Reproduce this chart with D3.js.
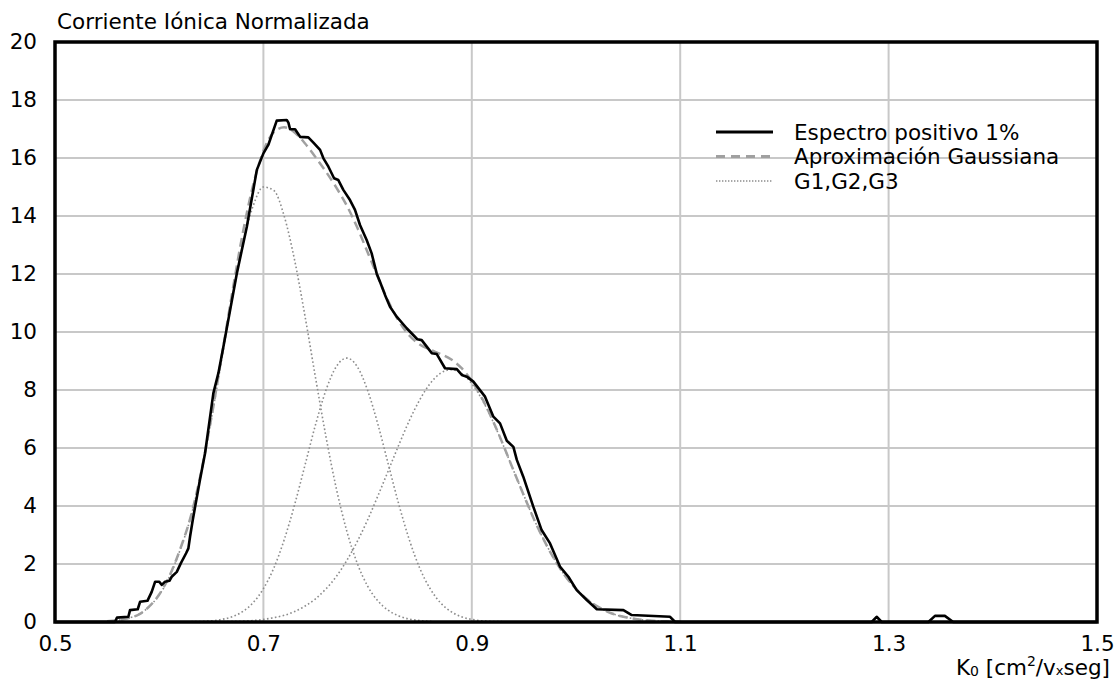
<!DOCTYPE html>
<html lang="es">
<head>
  <meta charset="UTF-8">
  <title>Espectro positivo 1%</title>
  <script src="https://cdn.jsdelivr.net/npm/d3@7"></script>
  <style>
    html, body {
      margin: 0;
      padding: 0;
      background: #fff;
    }
    svg text {
      font-family: "DejaVu Sans", Verdana, sans-serif;
      font-size: 21.5px;
      fill: #000;
    }
    .grid line {
      stroke: #c8c8c8;
      stroke-width: 2px;
    }
  </style>
</head>
<body>
  <div id="chart"></div>
  <script>
    // measured spectrum (K0, normalized ion current)
    const kSpec = [0.500, 0.5576, 0.5595, 0.5704, 0.5720, 0.5794, 0.5817, 0.5887, 0.5928, 0.5961,
      0.5999, 0.6025, 0.6056, 0.6098, 0.6120, 0.6169, 0.6207, 0.6258, 0.6280, 0.6296,
      0.6322, 0.6391, 0.6440, 0.6520, 0.6568, 0.6616, 0.6745, 0.6841, 0.6937, 0.7000,
      0.7047, 0.7128, 0.7224, 0.7240, 0.7256, 0.7304, 0.7352, 0.7431, 0.7480, 0.7544,
      0.7576, 0.7624, 0.7678, 0.7719, 0.7767, 0.7831, 0.7879, 0.7927, 0.7991, 0.8039,
      0.8087, 0.8119, 0.8167, 0.8215, 0.8279, 0.8375, 0.8477, 0.8519, 0.8616, 0.8664,
      0.8743, 0.8856, 0.8904, 0.8952, 0.9015, 0.9127, 0.9207, 0.9271, 0.9336, 0.9399,
      0.9432, 0.9494, 0.9590, 0.9670, 0.9751, 0.9846, 0.9927, 1.0007, 1.0103, 1.0200,
      1.0455, 1.0535, 1.0903, 1.0951, 1.2838, 1.2885, 1.2934, 1.3382, 1.3445, 1.3540,
      1.3620, 1.500]
    const iSpec = [0, 0, 0.15, 0.18, 0.41, 0.44, 0.70, 0.73, 1.04, 1.39,
      1.39, 1.28, 1.39, 1.42, 1.56, 1.73, 2.02, 2.37, 2.54, 2.94,
      3.52, 4.90, 5.82, 7.89, 8.58, 9.49, 12.02, 13.63, 15.59, 16.16,
      16.45, 17.29, 17.31, 17.22, 16.99, 16.99, 16.73, 16.71, 16.53, 16.28,
      15.99, 15.70, 15.30, 15.24, 14.90, 14.55, 14.21, 13.69, 13.17, 12.71,
      12.02, 11.73, 11.28, 10.87, 10.53, 10.13, 9.75, 9.72, 9.27, 9.24,
      8.75, 8.72, 8.52, 8.46, 8.29, 7.77, 7.08, 6.85, 6.25, 6.04,
      5.59, 5.01, 3.98, 3.17, 2.71, 1.91, 1.56, 1.10, 0.76, 0.44,
      0.41, 0.24, 0.18, 0, 0, 0.18, 0, 0, 0.21, 0.21,
      0, 0]

    // gaussian fit, sampled every 0.01
    const kFit = [0.55, 0.56, 0.57, 0.58, 0.59, 0.60, 0.61, 0.62, 0.63, 0.64,
      0.65, 0.66, 0.67, 0.68, 0.69, 0.70, 0.71, 0.72, 0.73, 0.74,
      0.75, 0.76, 0.77, 0.78, 0.79, 0.80, 0.81, 0.82, 0.83, 0.84,
      0.85, 0.86, 0.87, 0.88, 0.89, 0.90, 0.91, 0.92, 0.93, 0.94,
      0.95, 0.96, 0.97, 0.98, 0.99, 1.00, 1.01, 1.02, 1.03, 1.04,
      1.05, 1.06, 1.07, 1.08, 1.09, 1.10]
    const fitSum = [0.03, 0.06, 0.13, 0.25, 0.52, 0.95, 1.60, 2.50, 3.60, 5.13,
      7.03, 9.16, 11.34, 13.37, 15.04, 16.24, 16.89, 17.06, 16.88, 16.50,
      16.03, 15.53, 14.98, 14.36, 13.61, 12.75, 11.88, 11.05, 10.37, 9.88,
      9.57, 9.39, 9.24, 9.06, 8.76, 8.31, 7.70, 6.96, 6.12, 5.23,
      4.36, 3.52, 2.77, 2.12, 1.57, 1.14, 0.80, 0.55, 0.36, 0.23,
      0.15, 0.09, 0.05, 0.03, 0.02, 0.01]
    const g1 = [0.03, 0.06, 0.13, 0.25, 0.52, 0.93, 1.57, 2.48, 3.58, 5.11,
      6.99, 9.06, 11.14, 12.98, 14.33, 15.00, 14.88, 13.99, 12.47, 10.53,
      8.43, 6.40, 4.60, 3.14, 2.03, 1.24, 0.72, 0.40, 0.21, 0.10,
      0.05, 0.02, 0, 0, 0, 0, 0, 0, 0, 0,
      0, 0, 0, 0, 0, 0, 0, 0, 0, 0,
      0, 0, 0, 0, 0, 0]
    const g2 = [0, 0, 0, 0, 0, 0, 0, 0, 0.01, 0.02,
      0.04, 0.09, 0.18, 0.36, 0.66, 1.15, 1.86, 2.84, 4.05, 5.42,
      6.80, 7.99, 8.81, 9.10, 8.81, 7.99, 6.80, 5.42, 4.05, 2.84,
      1.86, 1.15, 0.66, 0.36, 0.18, 0.09, 0.04, 0.02, 0.01, 0,
      0, 0, 0, 0, 0, 0, 0, 0, 0, 0,
      0, 0, 0, 0, 0, 0]
    const g3 = [0, 0, 0, 0, 0, 0, 0, 0, 0, 0,
      0, 0.01, 0.02, 0.03, 0.05, 0.09, 0.15, 0.23, 0.36, 0.55,
      0.80, 1.14, 1.57, 2.12, 2.77, 3.52, 4.36, 5.23, 6.11, 6.94,
      7.66, 8.22, 8.58, 8.70, 8.58, 8.22, 7.66, 6.94, 6.11, 5.23,
      4.36, 3.52, 2.77, 2.12, 1.57, 1.14, 0.80, 0.55, 0.36, 0.23,
      0.15, 0.09, 0.05, 0.03, 0.02, 0.01]

    const xTicks = [0.5, 0.7, 0.9, 1.1, 1.3, 1.5]
    const yTicks = [0, 2, 4, 6, 8, 10, 12, 14, 16, 18, 20]
    const legendLabels = ['Espectro positivo 1%', 'Aproximación Gaussiana', 'G1,G2,G3']

    const width = 1118
    const height = 686
    const margin = {top: 42, left: 55, right: 21, bottom: 64}
    const innerW = width - margin.left - margin.right
    const innerH = height - margin.top - margin.bottom

    const svg = d3.select('#chart').append('svg')
      .attr('width', width).attr('height', height)

    const g = svg.append('g')
      .attr('transform', `translate(${margin.left},${margin.top})`)

    const x = d3.scaleLinear().domain([0.5, 1.5]).range([0, innerW])
    const y = d3.scaleLinear().domain([0, 20]).range([innerH, 0])

    // grid
    const grid = g.append('g').attr('class', 'grid')
    grid.selectAll('.hg').data(yTicks.slice(1, -1)).enter().append('line')
      .attr('x1', 0).attr('x2', innerW)
      .attr('y1', d => y(d)).attr('y2', d => y(d))
    grid.selectAll('.vg').data(xTicks.slice(1, -1)).enter().append('line')
      .attr('y1', 0).attr('y2', innerH)
      .attr('x1', d => x(d)).attr('x2', d => x(d))

    // axes (labels only)
    const yAxis = d3.axisLeft(y).tickValues(yTicks).tickSize(0).tickPadding(18)
    const xAxis = d3.axisBottom(x).tickValues(xTicks).tickSize(0).tickPadding(14)
      .tickFormat(d3.format('.1f'))
    g.append('g').attr('class', 'y-axis').call(yAxis)
    g.append('g').attr('class', 'x-axis').attr('transform', `translate(0,${innerH})`).call(xAxis)
    g.selectAll('.domain').remove()
    svg.selectAll('.y-axis, .x-axis').attr('font-size', null).attr('font-family', null)

    // curves
    const fitLine = d3.line().x(d => x(d[0])).y(d => y(d[1])).curve(d3.curveMonotoneX)
    const specLine = d3.line().x(d => x(d[0])).y(d => y(d[1]))

    const gaussData = [g1, g2, g3].map(s => kFit.map((k, i) => [k, s[i]]))
    g.selectAll('.gauss').data(gaussData).enter().append('path')
      .attr('class', 'gauss')
      .attr('d', fitLine)
      .attr('fill', 'none')
      .attr('stroke', '#8c8c8c')
      .attr('stroke-width', 1.6)
      .attr('stroke-dasharray', '1.6,2.4')

    g.append('path')
      .datum(kFit.map((k, i) => [k, fitSum[i]]))
      .attr('d', fitLine)
      .attr('fill', 'none')
      .attr('stroke', '#a0a0a0')
      .attr('stroke-width', 2.5)
      .attr('stroke-dasharray', '9,5')

    g.append('path')
      .datum(kSpec.map((k, i) => [k, iSpec[i]]))
      .attr('d', specLine)
      .attr('fill', 'none')
      .attr('stroke', '#000')
      .attr('stroke-width', 2.6)
      .attr('stroke-linejoin', 'round')

    // frame
    g.append('rect')
      .attr('width', innerW).attr('height', innerH)
      .attr('fill', 'none').attr('stroke', '#000').attr('stroke-width', 3.5)

    // titles
    svg.append('text').attr('x', 57).attr('y', 29).text('Corriente Iónica Normalizada')

    const xt = svg.append('text').attr('x', 1110).attr('y', 675).attr('text-anchor', 'end')
    xt.append('tspan').text('K')
    xt.append('tspan').attr('font-size', 14).attr('dy', 1).text('0')
    xt.append('tspan').attr('dy', -1).text(' [cm')
    xt.append('tspan').attr('font-size', 14).attr('dy', -9).text('2')
    xt.append('tspan').attr('dy', 9).text('/v')
    xt.append('tspan').attr('font-size', 13).text('x')
    xt.append('tspan').text('seg]')

    // legend
    const legendStyles = [
      {stroke: '#000', width: 3, dash: null},
      {stroke: '#a0a0a0', width: 3, dash: '9,6'},
      {stroke: '#8c8c8c', width: 1.4, dash: '1.4,1.6'}
    ]
    const legend = svg.append('g').attr('transform', 'translate(716,132)')
    const rows = legend.selectAll('.row').data(legendLabels).enter().append('g')
      .attr('transform', (d, i) => `translate(0,${i * 24.5})`)
    rows.append('line')
      .attr('x1', 0).attr('x2', 57).attr('y1', 0).attr('y2', 0)
      .attr('stroke', (d, i) => legendStyles[i].stroke)
      .attr('stroke-width', (d, i) => legendStyles[i].width)
      .attr('stroke-dasharray', (d, i) => legendStyles[i].dash)
    rows.append('text').attr('x', 78).attr('y', 7.5).text(d => d)
  </script>
</body>
</html>
